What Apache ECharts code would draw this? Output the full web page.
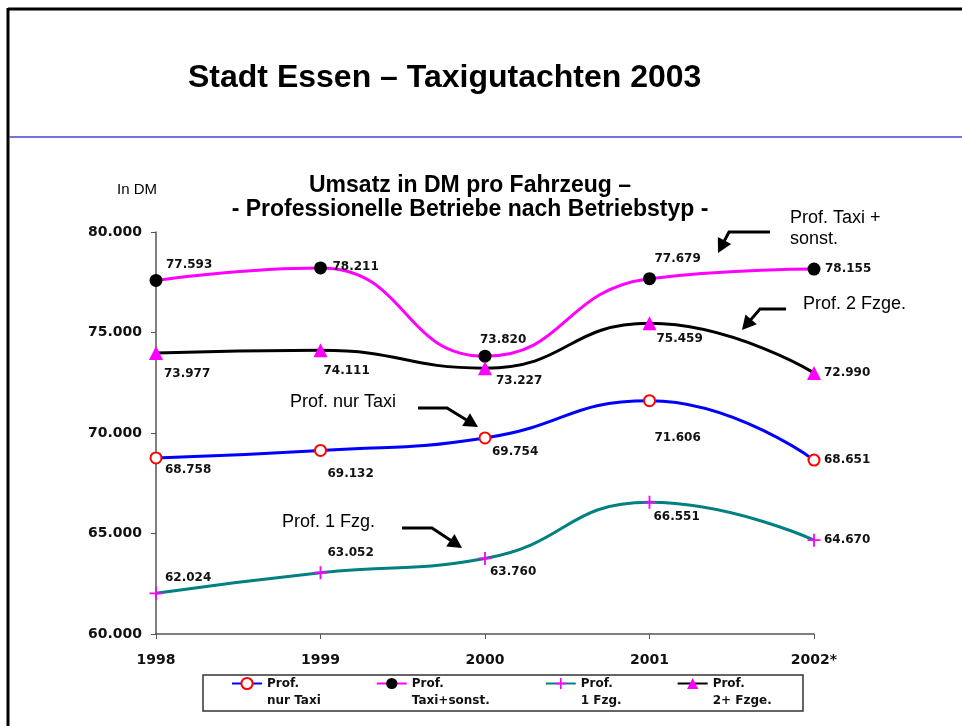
<!DOCTYPE html>
<html><head><meta charset="utf-8">
<script src="https://cdn.jsdelivr.net/npm/echarts@6/dist/echarts.min.js"></script>
<style>html,body{margin:0;padding:0;background:#fff}#c{width:962px;height:726px}</style>
</head><body><div id="c"></div>
<script>
// ---- data ----
const years = ['1998', '1999', '2000', '2001', '2002*'];
const nurTaxi = [68758, 69132, 69754, 71606, 68651];
const taxiSonst = [77593, 78211, 73820, 77679, 78155];
const einFzg = [62024, 63052, 63760, 66551, 64670];
const zweiFzge = [73977, 74111, 73227, 75459, 72990];
const seriesNames = ['Prof.\nnur Taxi', 'Prof.\nTaxi+sonst.', 'Prof.\n1 Fzg.', 'Prof.\n2+ Fzge.'];
const yMin = 60000, yMax = 80000, yStep = 5000;

// label offsets (label left edge / centre relative to the point)
const offNurTaxi = [[9, 12], [7, 23], [7, 14], [5, 37], [10, 0]];
const offTaxiSonst = [[10, -16], [12, -1], [-5, -16], [5, -20], [11, 0]];
const offEinFzg = [[9, -15], [7, -20], [5, 13], [4, 15], [10, 0]];
const offZweiFzge = [[8, 21], [3, 21], [11, 13], [7, 16], [10, 0]];

const fmt = n => Math.floor(n / 1000) + '.' + String(n % 1000).padStart(3, '0');
const BOLD = { fontFamily: 'DejaVu Sans', fontWeight: 'bold', color: '#111' };

function mk(name, values, offsets, lineColor, symbol, symbolSize, itemStyle) {
  return {
    name, type: 'line', smooth: 0.5, symbol, symbolSize,
    data: values.map((v, i) => ({ value: v, label: { offset: offsets[i] } })),
    lineStyle: { color: lineColor, width: 3 },
    itemStyle,
    label: Object.assign({ show: true, position: 'inside', align: 'left', verticalAlign: 'middle',
      fontSize: 12, formatter: p => fmt(p.value) }, BOLD),
    emphasis: { disabled: true }
  };
}

const plusPath = 'path://M4.3,0H5.7V4.3H10V5.7H5.7V10H4.3V5.7H0V4.3H4.3Z';

function arrow(pts) {
  const n = pts.length, tip = pts[n - 1], prev = pts[n - 2];
  const dx = tip[0] - prev[0], dy = tip[1] - prev[1], L = Math.hypot(dx, dy);
  const ux = dx / L, uy = dy / L, hl = 14, hw = 7.5;
  const bx = tip[0] - ux * hl, by = tip[1] - uy * hl;
  const line = pts.slice(0, n - 1).concat([[tip[0] - ux * (hl - 2), tip[1] - uy * (hl - 2)]]);
  return [
    { type: 'polyline', shape: { points: line }, style: { stroke: '#000', lineWidth: 3, fill: null }, z: 50 },
    { type: 'polygon', shape: { points: [tip, [bx - uy * hw, by + ux * hw], [bx + uy * hw, by - ux * hw]] },
      style: { fill: '#000' }, z: 50 }
  ];
}

function note(text, x, y) {
  return { type: 'text', x, y, z: 50, style: { text, fontFamily: 'Liberation Sans', fontSize: 18,
    fill: '#000', lineHeight: 21, verticalAlign: 'middle' } };
}

const graphics = [
  { type: 'line', shape: { x1: 8, y1: 9, x2: 962, y2: 9 }, style: { stroke: '#000', lineWidth: 3 } },
  { type: 'line', shape: { x1: 8, y1: 8, x2: 8, y2: 726 }, style: { stroke: '#000', lineWidth: 3 } },
  { type: 'line', shape: { x1: 9, y1: 137, x2: 962, y2: 137 }, style: { stroke: '#4444cc', lineWidth: 1.5 } },
  { type: 'rect', shape: { x: 203, y: 675, width: 600, height: 36 }, style: { stroke: '#333', lineWidth: 1.5, fill: null } },
  note('Prof. Taxi +\nsonst.', 790, 229),
  note('Prof. 2 Fzge.', 803, 304),
  note('Prof. nur Taxi', 290, 402),
  note('Prof. 1 Fzg.', 282, 522)
].concat(
  arrow([[770, 232], [729, 232], [718, 253]]),
  arrow([[786, 309], [760, 309], [742, 330]]),
  arrow([[418, 408], [447, 408], [478, 427]]),
  arrow([[402, 528], [432, 528], [462, 548]])
);

const chart = echarts.init(document.getElementById('c'));
chart.setOption({
  animation: false,
  backgroundColor: '#fff',
  title: [
    { text: 'Stadt Essen – Taxigutachten 2003', left: 188, top: 62, padding: 0,
      textStyle: { fontFamily: 'Liberation Sans', fontWeight: 'bold', fontSize: 32, color: '#000' } },
    { text: 'Umsatz in DM pro Fahrzeug –\n- Professionelle Betriebe nach Betriebstyp -', left: 470, top: 174,
      textAlign: 'center', padding: 0,
      textStyle: { fontFamily: 'Liberation Sans', fontWeight: 'bold', fontSize: 23, lineHeight: 24, color: '#000', align: 'center' } }
  ],
  grid: { left: 156, right: 148, top: 232, bottom: 92, containLabel: false },
  xAxis: {
    type: 'category', data: years, boundaryGap: false,
    axisLine: { lineStyle: { color: '#555', width: 1.5 } },
    axisTick: { show: true, length: 5, lineStyle: { color: '#555' } },
    axisLabel: Object.assign({ fontSize: 14, margin: 19 }, BOLD),
    splitLine: { show: false }
  },
  yAxis: {
    type: 'value', min: yMin, max: yMax, interval: yStep,
    name: 'In DM', nameLocation: 'end', nameGap: 35,
    nameTextStyle: { fontFamily: 'Liberation Sans', fontSize: 15, color: '#000', align: 'right', padding: [0, -1, 0, 0] },
    axisLine: { show: true, lineStyle: { color: '#555', width: 1.5 } },
    axisTick: { show: true, length: 5, lineStyle: { color: '#555' } },
    axisLabel: Object.assign({ fontSize: 14, margin: 14, formatter: v => fmt(v) }, BOLD),
    splitLine: { show: false }
  },
  legend: {
    left: 231, top: 658, padding: 0, itemGap: 55, itemWidth: 30, itemHeight: 14,
    data: seriesNames,
    formatter: name => '\n' + name,
    textStyle: Object.assign({ fontSize: 12, lineHeight: 17 }, BOLD)
  },
  series: [
    mk(seriesNames[0], nurTaxi, offNurTaxi, '#0000ff', 'emptyCircle', 11,
      { color: '#ff0000', borderColor: '#ff0000', borderWidth: 1.2 }),
    mk(seriesNames[1], taxiSonst, offTaxiSonst, '#ff00ff', 'circle', 13,
      { color: '#000' }),
    mk(seriesNames[2], einFzg, offEinFzg, '#008080', plusPath, 13,
      { color: '#ff00ff' }),
    mk(seriesNames[3], zweiFzge, offZweiFzge, '#000000', 'triangle', 14,
      { color: '#ff00ff' })
  ],
  graphic: graphics
});
</script></body></html>
